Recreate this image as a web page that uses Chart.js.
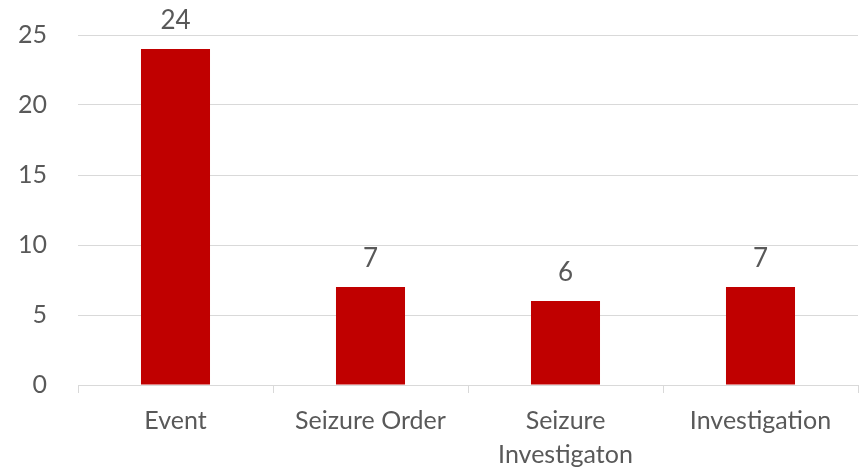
<!DOCTYPE html>
<html>
<head>
<meta charset="utf-8">
<script src="https://cdn.jsdelivr.net/npm/chart.js@4"></script>
<style>
  body { margin: 0; background: #fff; }
  #wrap { width: 868px; height: 471px; }
</style>
</head>
<body>
<div id="wrap"><canvas id="barChart"></canvas></div>
<script>
// Chart data
const categories = ["Event", "Seizure Order", ["Seizure", "Investigaton"], "Investigation"];
const counts = [24, 7, 6, 7];
const yTicks = [0, 5, 10, 15, 20, 25];

const textColor = "#595959";
const gridColor = "#d9d9d9";
const fontFamily = "Lato, 'Open Sans', sans-serif";

// Simple plugin to write the value above each bar
const valueLabels = {
  id: "valueLabels",
  afterDatasetsDraw(chart) {
    const ctx = chart.ctx;
    const meta = chart.getDatasetMeta(0);
    ctx.save();
    ctx.fillStyle = textColor;
    ctx.font = "26px " + fontFamily;
    ctx.textAlign = "center";
    ctx.textBaseline = "alphabetic";
    meta.data.forEach((bar, i) => {
      ctx.fillText(counts[i], bar.x, bar.y - 20);
    });
    ctx.restore();
  },
};

const ctx = document.getElementById("barChart").getContext("2d");
new Chart(ctx, {
  type: "bar",
  data: {
    labels: categories,
    datasets: [
      {
        data: counts,
        backgroundColor: "#c00000",
        borderWidth: 0,
        categoryPercentage: 0.354,
        barPercentage: 1.0,
      },
    ],
  },
  options: {
    responsive: true,
    maintainAspectRatio: false,
    animation: false,
    layout: {
      padding: { top: 35, right: 10, bottom: 0, left: 0 },
    },
    plugins: {
      legend: { display: false },
      tooltip: { enabled: false },
    },
    scales: {
      x: {
        afterFit: (scale) => {
          scale.height = 86;
        },
        grid: {
          display: true,
          offset: true,
          drawOnChartArea: false,
          drawTicks: true,
          tickLength: 8,
          color: gridColor,
        },
        border: { display: true, color: gridColor, width: 1 },
        ticks: {
          color: textColor,
          font: { family: fontFamily, size: 25, lineHeight: 1.36 },
          padding: 11,
          maxRotation: 0,
          autoSkip: false,
        },
      },
      y: {
        min: 0,
        max: 25,
        afterBuildTicks: (scale) => {
          scale.ticks = yTicks.map((v) => ({ value: v }));
        },
        afterFit: (scale) => {
          scale.width = 78;
          // the big tick padding is only meant to push labels left
          scale.paddingTop = 12;
          scale.paddingBottom = 12;
        },
        grid: {
          color: gridColor,
          drawTicks: false,
        },
        border: { display: false },
        ticks: {
          color: textColor,
          font: { family: fontFamily, size: 25 },
          padding: 31,
        },
      },
    },
  },
  plugins: [valueLabels],
});
</script>
</body>
</html>
